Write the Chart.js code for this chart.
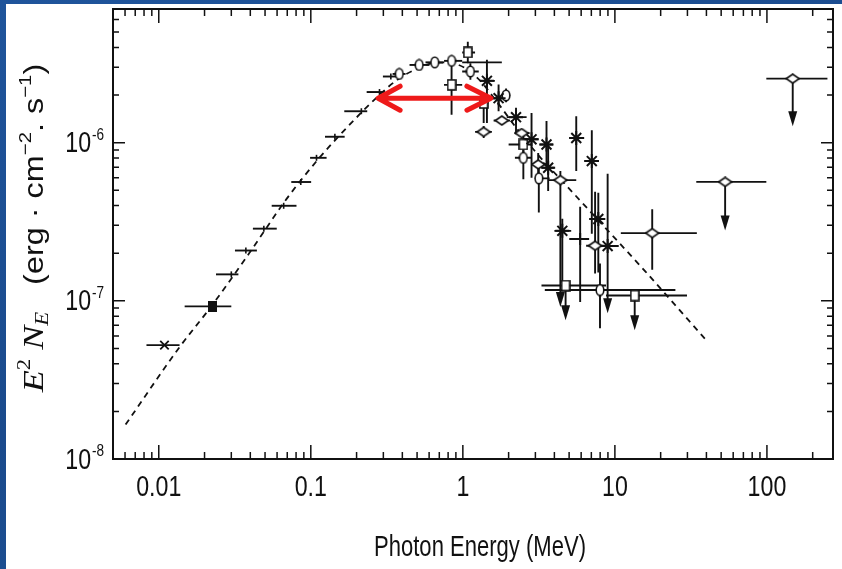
<!DOCTYPE html>
<html lang="en">
<head>
<meta charset="UTF-8">
<title>Photon spectrum</title>
<script src="https://cdn.jsdelivr.net/npm/chart.js"></script>
<style>
  html, body { margin: 0; padding: 0; }
  body { width: 842px; height: 569px; position: relative; overflow: hidden;
         background: linear-gradient(160deg, #1f549b 0%, #1a4a8c 50%, #205599 100%); }
  .paper { position: absolute; left: 6px; top: 4px; right: 0; bottom: 0; background: #fff; }
  #spec { position: absolute; left: 0; top: 0; }
</style>
</head>
<body>
<div class="paper"></div>
<canvas id="spec" width="842" height="569"></canvas>
<script>
// axis labels
const xTickValues = [0.01, 0.1, 1, 10, 100];
const xTickLabels = ['0.01', '0.1', '1', '10', '100'];
const xTitle = 'Photon Energy (MeV)';
const yTickValues = [1e-8, 1e-7, 1e-6];
const yTickExps = ['-8', '-7', '-6'];

// dashed model curve
const modelE = [0.00605, 0.0137, 0.0221, 0.0392, 0.0693, 0.112, 0.176, 0.276, 0.373, 0.503,
                0.68, 0.918, 1.24, 1.67, 2.26, 3.05, 4.31, 7.52, 15.9, 39.8];
const modelF = [1.65e-8, 5.1e-8, 9.2e-8, 1.99e-7, 4.41e-7, 7.87e-7, 1.27e-6, 1.96e-6, 2.51e-6, 2.94e-6,
                3.21e-6, 3.12e-6, 2.58e-6, 1.82e-6, 1.23e-6, 8.6e-7, 5.98e-7, 3.35e-7, 1.53e-7, 5.64e-8];

// rows: [E, F, Elo, Ehi, Flo, Fhi, lowerArrow]
const tickPts = [
  [0.030, 1.47e-7, 0.0238, 0.0334], [0.0374, 2.08e-7, 0.0317, 0.0442],
  [0.0491, 2.86e-7, 0.0416, 0.0597], [0.0663, 3.99e-7, 0.0553, 0.0805],
  [0.0859, 5.64e-7, 0.0744, 0.1005], [0.109, 8.02e-7, 0.0989, 0.127],
  [0.144, 1.09e-6, 0.124, 0.167], [0.215, 1.58e-6, 0.166, 0.235],
  [0.283, 2.09e-6, 0.233, 0.308], [0.336, 2.62e-6, 0.298, 0.373]
];
const crossPts = [[0.0109, 5.25e-8, 0.0083, 0.0137]];
const filledSqPts = [[0.0224, 9.23e-8, 0.0148, 0.030]];
const ovalPts = [
  [0.382, 2.72e-6, 0.345, 0.42], [0.516, 3.10e-6, 0.446, 0.603],
  [0.653, 3.22e-6, 0.568, 0.755], [0.843, 3.29e-6, 0.752, 0.99],
  [1.121, 2.82e-6, 0.99, 1.272, 2.50e-6, 3.18e-6],
  [1.924, 1.99e-6, 1.8, 2.05, 1.8e-6, 2.2e-6],
  [2.50, 8.02e-7, 2.2, 2.85, 5.87e-7, 9.7e-7],
  [3.16, 5.95e-7, 2.97, 3.72, 3.62e-7, 7.65e-7],
  [7.98, 1.17e-7, 3.46, 25.0, 6.71e-8, 1.72e-7]
];
const squarePts = [
  [1.078, 3.72e-6, 0.99, 1.203, 3.18e-6, 4.35e-6],
  [0.843, 2.32e-6, 0.752, 0.99, 1.50e-6, 3.25e-6],
  [1.371, 1.78e-6, 1.28, 1.47, 1.33e-6, 1.91e-6],
  [2.50, 9.74e-7, 2.0, 2.83, 7.5e-7, 1.18e-6]
];
const diamondPts = [
  [1.371, 1.17e-6, 1.203, 1.553, 1.07e-6, 1.27e-6],
  [1.805, 1.38e-6, 1.593, 2.044],
  [2.437, 1.15e-6, 2.19, 2.75],
  [3.13, 7.29e-7, 2.83, 3.64, 6.2e-7, 8.6e-7],
  [4.38, 5.8e-7, 3.64, 5.57, 9.14e-8, 6.62e-7, true],
  [7.41, 2.23e-7, 6.47, 8.74, 1.49e-7, 4.9e-7],
  [17.6, 2.68e-7, 10.94, 34.6, 1.57e-7, 3.80e-7]
];
const starPts = [
  [1.44, 2.46e-6, 1.297, 1.624, 1.33e-6, 3.34e-6],
  [1.718, 1.91e-6, 1.53, 1.92, 1.58e-6, 2.33e-6],
  [2.237, 1.45e-6, 1.945, 2.627, 1.13e-6, 1.66e-6],
  [2.83, 1.05e-6, 2.55, 3.15, 6.0e-7, 1.54e-6],
  [3.55, 9.74e-7, 3.19, 3.92, 7.32e-7, 1.37e-6],
  [3.64, 6.94e-7, 3.3, 4.0, 4.95e-7, 9.5e-7],
  [5.57, 1.07e-6, 5.01, 6.28, 6.62e-7, 1.47e-6],
  [7.05, 7.65e-7, 6.28, 7.85, 2.66e-7, 1.20e-6],
  [4.51, 2.77e-7, 4.0, 5.16, 1.3e-7, 3.3e-7],
  [7.78, 3.29e-7, 6.77, 8.48, 1.51e-7, 4.83e-7],
  [8.96, 2.22e-7, 8.1, 10.6, 8.34e-8, 6.36e-7, true]
];
const plusPts = [[5.91, 2.46e-7, 5.01, 6.77, 9.83e-8, 3.93e-7]];
const barOnlyPts = [[1.336, 3.22e-6, 0.99, 1.805]];
// upper limits: [E, F, Elo, Ehi, arrowTipF]
const ulSquarePts = [[4.74, 1.25e-7, 3.29, 8.74, 7.54e-8], [13.5, 1.08e-7, 8.74, 29.8, 6.52e-8]];
const ulDiamondPts = [[53.1, 5.65e-7, 34.3, 99.1, 2.78e-7], [147.8, 2.54e-6, 99.1, 250, 1.27e-6]];

// red double arrow
const arrowE = [0.273, 1.553];
const arrowF = 1.91e-6;

const INK = '#111';
const SANS = "'Liberation Sans', Arial, sans-serif";
const SERIF = "'Liberation Serif', 'Times New Roman', serif";
const SQUEEZE = 0.8;   // the figure's lettering is condensed

function marker(w, h, draw) {
  const c = document.createElement('canvas');
  c.width = w; c.height = h;
  const g = c.getContext('2d');
  g.lineWidth = 1.6; g.strokeStyle = INK; g.fillStyle = '#fff';
  draw(g, w, h);
  return c;
}
const ovalImg = marker(10, 13, (g, w, h) => {
  g.beginPath(); g.ellipse(w / 2, h / 2, 3.8, 5.3, 0, 0, Math.PI * 2); g.fill(); g.stroke();
});
const diamondImg = marker(15, 11, (g, w, h) => {
  g.beginPath(); g.moveTo(1, h / 2); g.lineTo(w / 2, 1); g.lineTo(w - 1, h / 2); g.lineTo(w / 2, h - 1);
  g.closePath(); g.fill(); g.stroke();
});
const squareImg = marker(10, 12, (g, w, h) => {
  g.fillRect(1, 1, w - 2, h - 2); g.strokeRect(1, 1, w - 2, h - 2);
});
const filledSqImg = marker(9, 11, (g, w, h) => {
  g.fillStyle = INK; g.fillRect(0, 0, w, h);
});

function toPoints(rows) { return rows.map(r => ({ x: r[0], y: r[1] })); }

function series(rows, style, extra) {
  return Object.assign({
    data: toPoints(rows), rows: rows, pointStyle: style, pointRadius: 5,
    pointBorderColor: INK, pointBackgroundColor: '#fff', pointBorderWidth: 1.6
  }, extra || {});
}

function decadeSteps(min, max) {
  const out = [];
  for (let k = Math.floor(Math.log10(min)); k <= Math.ceil(Math.log10(max)); k++) {
    for (let m = 1; m <= 9; m++) {
      const v = m * Math.pow(10, k);
      if (v >= min * 0.999 && v <= max * 1.001) out.push([v, m === 1]);
    }
  }
  return out;
}

const errorBars = {
  id: 'errorBars',
  beforeDatasetsDraw(chart) {
    const { ctx, scales: { x, y } } = chart;
    ctx.save();
    ctx.strokeStyle = INK; ctx.fillStyle = INK; ctx.lineWidth = 1.9;
    chart.data.datasets.forEach(ds => {
      if (!ds.rows) return;
      ds.rows.forEach(r => {
        const px = x.getPixelForValue(r[0]), py = y.getPixelForValue(r[1]);
        let tip = null;
        ctx.beginPath();
        if (r[2] != null) { ctx.moveTo(x.getPixelForValue(r[2]), py); ctx.lineTo(x.getPixelForValue(r[3]), py); }
        if (r[5] != null) { ctx.moveTo(px, py); ctx.lineTo(px, y.getPixelForValue(r[5])); }
        if (ds.upper) tip = y.getPixelForValue(r[4]);
        else if (r[4] != null) {
          if (r[6]) tip = y.getPixelForValue(r[4]);
          else { ctx.moveTo(px, py); ctx.lineTo(px, y.getPixelForValue(r[4])); }
        }
        if (tip != null) { ctx.moveTo(px, py); ctx.lineTo(px, tip - 12); }
        ctx.stroke();
        if (tip != null) {
          ctx.beginPath();
          ctx.moveTo(px - 4.5, tip - 15); ctx.lineTo(px + 4.5, tip - 15); ctx.lineTo(px, tip);
          ctx.closePath(); ctx.fill();
        }
      });
    });
    ctx.restore();
  }
};

// condensed text centred at (cx, cy)
function squeezedText(ctx, text, cx, cy, font, k) {
  ctx.save();
  ctx.translate(cx, cy);
  ctx.scale(k || SQUEEZE, 1);
  ctx.font = font; ctx.textAlign = 'center'; ctx.textBaseline = 'middle';
  ctx.fillText(text, 0, 0);
  ctx.restore();
}

function drawRich(ctx, parts) {
  // parts: [text, font, dy]
  let total = 0;
  parts.forEach(p => { ctx.font = p[1]; total += ctx.measureText(p[0]).width; });
  let cx = -total / 2;
  parts.forEach(p => {
    ctx.font = p[1];
    ctx.fillText(p[0], cx, p[2]);
    cx += ctx.measureText(p[0]).width;
  });
}

const decor = {
  id: 'decor',
  afterDatasetsDraw(chart) {
    const { ctx, chartArea: a, scales: { x, y } } = chart;
    ctx.save();
    // frame and inward ticks
    ctx.strokeStyle = INK; ctx.lineWidth = 2;
    ctx.strokeRect(a.left, a.top, a.right - a.left, a.bottom - a.top);
    ctx.lineWidth = 1.5;
    ctx.beginPath();
    decadeSteps(x.min, x.max).forEach(([v, major]) => {
      const p = x.getPixelForValue(v), len = major ? 14 : 7;
      ctx.moveTo(p, a.bottom); ctx.lineTo(p, a.bottom - len);
      ctx.moveTo(p, a.top); ctx.lineTo(p, a.top + len);
    });
    decadeSteps(y.min, y.max).forEach(([v, major]) => {
      const p = y.getPixelForValue(v), len = major ? 12 : 6;
      ctx.moveTo(a.left, p); ctx.lineTo(a.left + len, p);
      ctx.moveTo(a.right, p); ctx.lineTo(a.right - len, p);
    });
    ctx.stroke();

    ctx.fillStyle = INK;
    // x tick labels and title
    xTickValues.forEach((v, i) => squeezedText(ctx, xTickLabels[i], x.getPixelForValue(v), 488, `29px ${SANS}`));
    squeezedText(ctx, xTitle, 480, 548, `29px ${SANS}`, 0.76);

    // y tick labels with superscript exponents
    yTickValues.forEach((v, i) => {
      const p = y.getPixelForValue(v);
      ctx.save();
      ctx.translate(104, p);
      ctx.scale(SQUEEZE, 1);
      ctx.textBaseline = 'alphabetic'; ctx.textAlign = 'right';
      ctx.font = `17px ${SANS}`;
      ctx.fillText(yTickExps[i], 0, -3);
      const w2 = ctx.measureText(yTickExps[i]).width;
      ctx.font = `29px ${SANS}`;
      ctx.fillText('10', -w2 - 1, 9.5);
      ctx.restore();
    });

    // y title
    ctx.save();
    ctx.translate(43, 228);
    ctx.rotate(-Math.PI / 2);
    ctx.scale(1.2, 1);
    ctx.textAlign = 'left'; ctx.textBaseline = 'alphabetic';
    const it = `italic 30px ${SERIF}`, itSm = `italic 19px ${SERIF}`, sans = `27px ${SANS}`, sup = `17px ${SANS}`;
    drawRich(ctx, [
      ['E', it, 0], ['2', `19px ${SERIF}`, -13], [' N', it, 0], ['E', itSm, 5],
      ['   (erg \u00b7 cm', sans, 0], ['\u22122', sup, -12], ['. s', sans, 0], ['\u22121', sup, -12], [')', sans, 0]
    ]);
    ctx.restore();

    // red double arrow
    const x1 = x.getPixelForValue(arrowE[0]), x2 = x.getPixelForValue(arrowE[1]), ay = y.getPixelForValue(arrowF);
    ctx.strokeStyle = '#ee1a1a'; ctx.lineWidth = 5; ctx.lineCap = 'round'; ctx.lineJoin = 'round';
    ctx.beginPath();
    ctx.moveTo(x1 + 2, ay); ctx.lineTo(x2 - 2, ay);
    ctx.moveTo(x1 + 23, ay - 12); ctx.lineTo(x1 + 1, ay); ctx.lineTo(x1 + 23, ay + 12);
    ctx.moveTo(x2 - 25, ay - 12); ctx.lineTo(x2 - 1, ay); ctx.lineTo(x2 - 25, ay + 12);
    ctx.stroke();
    ctx.restore();
  }
};

new Chart(document.getElementById('spec'), {
  type: 'scatter',
  data: {
    datasets: [
      series(tickPts, 'line', { pointRadius: 3, pointRotation: 90 }),
      series(crossPts, 'crossRot', { pointRadius: 6, pointBorderWidth: 1.8 }),
      series(filledSqPts, filledSqImg),
      series(barOnlyPts, 'circle', { pointRadius: 0 }),
      series(starPts, 'star', { pointRadius: 7, pointBorderWidth: 2 }),
      series(plusPts, 'cross', { pointRadius: 6, pointBorderWidth: 2 }),
      series(ovalPts, ovalImg),
      series(squarePts, squareImg),
      series(diamondPts, diamondImg),
      series(ulSquarePts, squareImg, { upper: true }),
      series(ulDiamondPts, diamondImg, { upper: true }),
      {
        type: 'line',
        data: modelE.map((e, i) => ({ x: e, y: modelF[i] })),
        showLine: true, borderColor: INK, borderWidth: 1.8, borderDash: [6, 5],
        pointRadius: 0, cubicInterpolationMode: 'monotone'
      }
    ]
  },
  options: {
    responsive: false,
    devicePixelRatio: 1,
    animation: false,
    layout: { padding: { top: 7, right: 3, left: 0, bottom: 0 } },
    plugins: { legend: { display: false }, tooltip: { enabled: false } },
    scales: {
      x: {
        type: 'logarithmic', min: 0.005, max: 272,
        afterFit: s => { s.height = 110; },
        grid: { display: false, drawTicks: false },
        border: { display: false },
        ticks: { display: false }
      },
      y: {
        type: 'logarithmic', min: 1e-8, max: 7e-6,
        afterFit: s => { s.width = 113; },
        grid: { display: false, drawTicks: false },
        border: { display: false },
        ticks: { display: false }
      }
    }
  },
  plugins: [errorBars, decor]
});
</script>
</body>
</html>
